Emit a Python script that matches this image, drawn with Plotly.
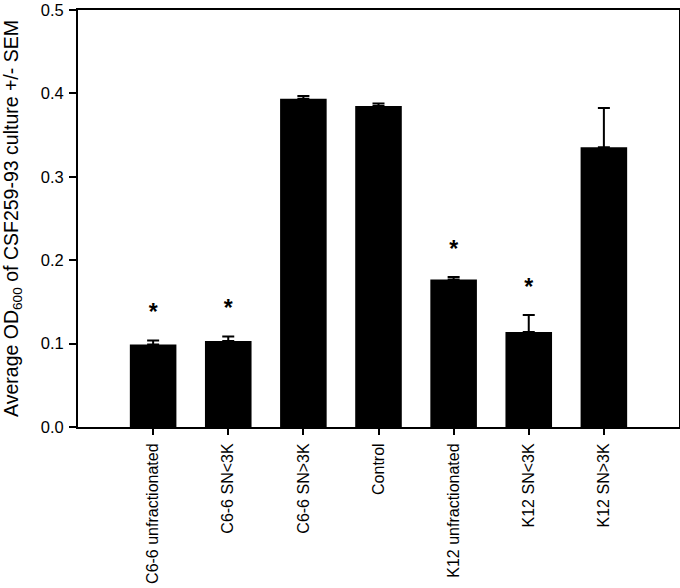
import plotly.graph_objects as go

categories = ["C6-6 unfractionated", "C6-6 SN<3K", "C6-6 SN>3K", "Control",
              "K12 unfractionated", "K12 SN<3K", "K12 SN>3K"]
means = [0.099, 0.103, 0.3935, 0.385, 0.1768, 0.114, 0.3353]
sems = [0.0048, 0.0056, 0.0035, 0.003, 0.0032, 0.0204, 0.0472]
significant = [True, True, False, False, True, True, False]
y_ticks = [0.0, 0.1, 0.2, 0.3, 0.4, 0.5]

FONT = "Liberation Sans, Arial, sans-serif"

fig = go.Figure()
fig.add_trace(go.Bar(
    x=categories, y=means,
    marker=dict(color="black", line=dict(color="black", width=0)),
    width=0.62,
    error_y=dict(type="data", array=sems, symmetric=False, arrayminus=[0] * len(sems),
                 color="black", thickness=2, width=6),
    showlegend=False,
))

star_x = [c for c, s in zip(categories, significant) if s]
star_y = [m + e + 0.031 for m, e, s in zip(means, sems, significant) if s]
fig.add_trace(go.Scatter(
    x=star_x, y=star_y, mode="text", text=["<b>*</b>"] * len(star_x),
    textfont=dict(family=FONT, size=23, color="black"),
    textposition="middle center", showlegend=False, hoverinfo="skip",
))

fig.update_layout(
    width=680, height=588,
    margin=dict(l=78, r=1, t=10, b=161, autoexpand=False),
    paper_bgcolor="white", plot_bgcolor="white",
    font=dict(family=FONT, color="black", size=16),
    bargap=0.38,
)
fig.update_xaxes(
    range=[-1, 7], showline=True, linecolor="black", linewidth=2, mirror=True,
    ticks="outside", ticklen=6, tickwidth=2, tickcolor="black",
    tickangle=-90, tickfont=dict(size=16), showgrid=False, zeroline=False,
    ticklabelstandoff=2, automargin=False, ticklabeloverflow="allow",
)
fig.update_yaxes(
    range=[0, 0.5], tickvals=y_ticks, tickformat=".1f", showline=True, linecolor="black",
    linewidth=2, mirror=True, ticks="outside", ticklen=7, tickwidth=2, tickcolor="black",
    tickfont=dict(size=16.5), showgrid=False, zeroline=False, ticklabeloverflow="allow",
    ticklabelstandoff=2, automargin=False,
    title=dict(text="Average OD<sub>600</sub> of CSF259-93 culture +/- SEM",
               font=dict(size=19.5), standoff=18),
)
fig.write_html("out.html", config={"displayModeBar": False},
               post_script="document.body.style.margin='0';")
